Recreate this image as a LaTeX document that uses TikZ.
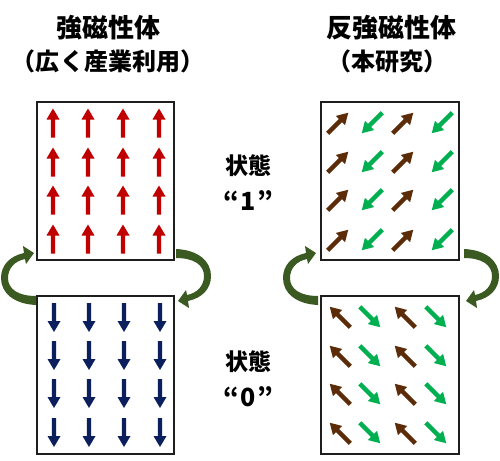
\documentclass[tikz,border=0pt]{standalone}
\usepackage{fontspec}
\setmainfont{Liberation Sans}
\newfontfamily\cjk{Noto Sans CJK JP}
\definecolor{boxline}{HTML}{1E1E1E}
\definecolor{upred}{HTML}{C00000}
\definecolor{downnavy}{HTML}{0B1F5C}
\definecolor{spinbrown}{HTML}{5C2C08}
\definecolor{spingreen}{HTML}{00B050}
\definecolor{arcgreen}{HTML}{3A5A22}
\tikzset{
  box/.style={draw=boxline, line width=1.4pt, fill=white, minimum width=137pt, minimum height=158pt, inner sep=0pt},
  ttl/.style={inner sep=0pt, font=\cjk\bfseries\fontsize{26}{26}\selectfont},
  ttlb/.style={inner sep=0pt, font=\cjk\bfseries\fontsize{24}{24}\selectfont},
  lbl/.style={inner sep=0pt, font=\cjk\bfseries\fontsize{23}{23}\selectfont},
  qlbl/.style={inner sep=0pt, font=\cjk\bfseries\fontsize{25}{25}\selectfont},
  spin/.pic={\fill[pic actions] (-14.5,-2.2) -- (3.5,-2.2) -- (3.5,-6.5) -- (14.5,0) -- (3.5,6.5) -- (3.5,2.2) -- (-14.5,2.2) -- cycle;},
  arcarrow/.pic={\fill[arcgreen] (36,305) .. controls (14,304) and (1,293) .. (1,278) .. controls (1,265) and (10,256) .. (24,253) -- (23,246) -- (34,253) -- (26,264) -- (25,259) .. controls (15,261) and (8,268) .. (8,278) .. controls (8,289) and (18,296) .. (36,296) -- cycle;}
}
\begin{document}
\begin{tikzpicture}[x=1pt,y=-1pt]
\useasboundingbox (0,0) rectangle (500,460);
% titles
\node[ttl] (t1) at (108,28) {強磁性体};
\node[ttlb] (t2) at (108,61) {（広く産業利用）};
\node[ttl] (t3) at (391,28) {反強磁性体};
\node[ttlb] (t4) at (387,61) {（本研究）};
% boxes
\node[box] (fm1) at (105.5,181) {};
\node[box] (fm0) at (105.5,375) {};
\node[box, minimum width=138pt] (af1) at (390,181) {};
\node[box, minimum width=138pt] (af0) at (390,375) {};
% ferromagnet spins
\foreach \cx in {53,88,123,159}{
  \foreach \cy in {123,162,200,239}{
    \pic[fill=upred, rotate=90] at (\cx,\cy) {spin};
  }
  \foreach \cy in {317.5,355.5,393.5,432.5}{
    \pic[fill=downnavy, rotate=-90] at (\cx+1,\cy) {spin};
  }
}
% antiferromagnet spins
\foreach \cy in {123,162,200,240}{
  \foreach \cx in {338,403}{\pic[fill=spinbrown, rotate=45] at (\cx,\cy) {spin};}
  \foreach \cx in {372,442}{\pic[fill=spingreen, rotate=-135] at (\cx,\cy) {spin};}
}
\foreach \cy in {317,356,394,433}{
  \foreach \cx in {340,405}{\pic[fill=spinbrown, rotate=135] at (\cx,\cy) {spin};}
  \foreach \cx in {370,436}{\pic[fill=spingreen, rotate=-45] at (\cx,\cy) {spin};}
}
% curved arrows
\pic at (0,0) {arcarrow};
\pic[rotate=180] at (212,554) {arcarrow};
\pic at (282,0) {arcarrow};
\pic[rotate=180] at (500,554) {arcarrow};
% state labels
\node[lbl] (s1) at (248,166) {状態};
\node[qlbl] (q1) at (248,201) {“\hspace{1.5pt}1\hspace{1.5pt}”};
\node[lbl] (s0) at (248,362) {状態};
\node[qlbl] (q0) at (248,397) {“\hspace{1.5pt}0\hspace{1.5pt}”};
\end{tikzpicture}
\end{document}
